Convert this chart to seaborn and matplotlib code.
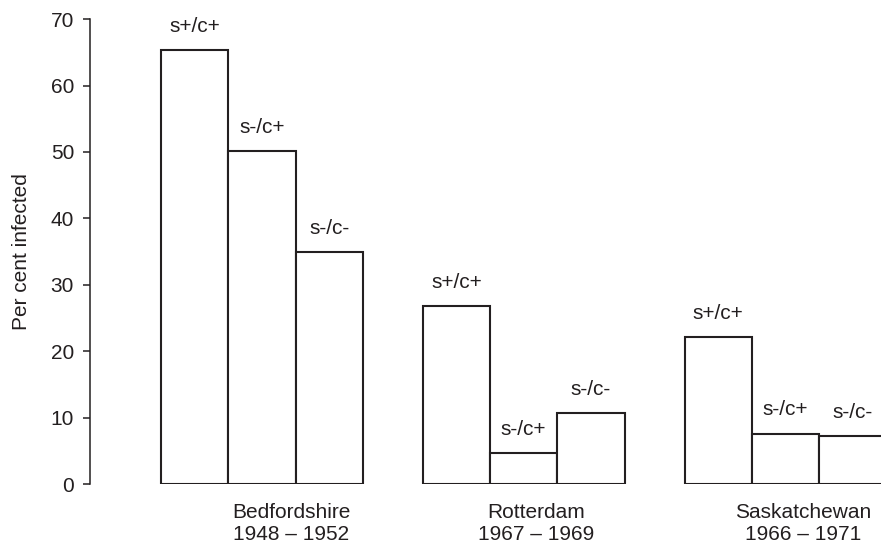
import pandas as pd
import matplotlib.pyplot as plt
import seaborn as sns

# Data
regions = ['Bedfordshire', 'Rotterdam', 'Saskatchewan']
periods = ['1948 – 1952', '1967 – 1969', '1966 – 1971']
status = ['s+/c+', 's-/c+', 's-/c-']
bedfordshire = [65.3, 50.1, 35.0]
rotterdam = [26.8, 4.6, 10.7]
saskatchewan = [22.1, 7.6, 7.2]
yticks = [0, 10, 20, 30, 40, 50, 60, 70]

# Layout (not data): bar slots, gap between regions, label offsets
group_step = 3.89
label_shift = [0.44, 0.18, 0.27]
ink = '#231f20'

sns.set_style('ticks')
plt.rcParams['font.family'] = ['Liberation Sans', 'DejaVu Sans']
plt.rcParams['text.color'] = ink

rows = []
for g, (region, vals) in enumerate(zip(regions, [bedfordshire, rotterdam, saskatchewan])):
    for i, (s, v) in enumerate(zip(status, vals)):
        rows.append({'region': region, 'status': s,
                     'pos': g * group_step + i, 'value': v})
df = pd.DataFrame(rows)

fig = plt.figure(figsize=(8.81, 5.45), dpi=100)
ax = fig.add_axes([0.1022, 0.1119, 0.8978, 0.8529])

sns.barplot(data=df, x='pos', y='value', native_scale=True, width=1,
            color='white', saturation=1, edgecolor=ink, linewidth=1.5,
            errorbar=None, ax=ax)

# status labels above each bar
for _, r in df.iterrows():
    ax.annotate(r['status'], (r['pos'], r['value']), xytext=(0, 13),
                textcoords='offset points', ha='center', va='baseline',
                fontsize=15, color=ink)

ax.set_xlim(-1.554, 10.2)
ax.set_ylim(0, 70)
ax.set_yticks(yticks)
ax.set_xticks([])
ax.set_xlabel('')
ax.set_ylabel('Per cent infected', fontsize=15, labelpad=14, color=ink)
ax.tick_params(axis='y', labelsize=15, length=5, width=1.1, pad=6.5,
               colors=ink)

sns.despine(ax=ax, bottom=True)
ax.spines['left'].set_linewidth(1.1)
ax.spines['left'].set_color(ink)

# region / period labels under each group
for g, (region, period) in enumerate(zip(regions, periods)):
    xc = g * group_step + 1 + label_shift[g]
    ax.text(xc, -5.1, region, ha='center', va='baseline', fontsize=15,
            color=ink, clip_on=False)
    ax.text(xc, -8.4, period, ha='center', va='baseline', fontsize=15,
            color=ink, clip_on=False)

plt.savefig('out.png', dpi=100)
